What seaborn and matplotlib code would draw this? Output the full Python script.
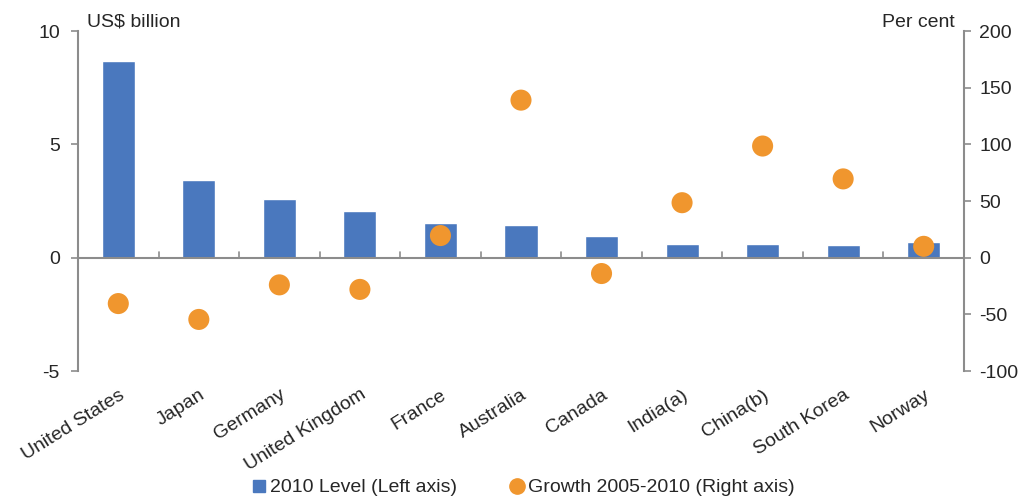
import matplotlib
matplotlib.use("Agg")
import matplotlib.pyplot as plt
import matplotlib.transforms as mtransforms
import seaborn as sns
import pandas as pd
from matplotlib.lines import Line2D

countries = ["United States", "Japan", "Germany", "United Kingdom", "France",
             "Australia", "Canada", "India(a)", "China(b)", "South Korea", "Norway"]
level_2010 = [8.66, 3.42, 2.6, 2.05, 1.55, 1.42, 0.97, 0.59, 0.59, 0.57, 0.68]
growth_05_10 = [-40.5, -54.5, -24, -28, 19.5, 139, -14, 48.5, 98.5, 69.5, 10]

left_ticks = [-5, 0, 5, 10]
right_ticks = [-100, -50, 0, 50, 100, 150, 200]

BLUE = "#4A78BE"
ORANGE = "#F0962E"
GREY = "#8C8C8C"
FS = 14

sns.set_style("white")
plt.rcParams['font.family'] = ['Liberation Sans', 'DejaVu Sans']

df = pd.DataFrame({"country": countries, "level": level_2010, "growth": growth_05_10})

fig = plt.figure(figsize=(10.28, 5.0), dpi=100)
ax = fig.add_axes([0.0759, 0.258, 0.8618, 0.68])

sns.barplot(data=df, x="country", y="level", order=countries, color=BLUE,
            width=0.41, saturation=1, ax=ax, zorder=2)
ax.set_ylim(-5, 10)
ax.set_xlim(-0.5, len(countries) - 0.5)
ax.set_yticks(left_ticks)
ax.set_yticklabels([str(t) for t in left_ticks], fontsize=FS)
ax.set_xlabel("")
ax.set_ylabel("")

ax2 = ax.twinx()
sns.scatterplot(x=list(range(len(countries))), y=df["growth"].tolist(), color=ORANGE,
                s=230, edgecolor="none", ax=ax2, zorder=3)
ax2.set_ylim(-100, 200)
ax2.set_yticks(right_ticks)
ax2.set_yticklabels([str(t) for t in right_ticks], fontsize=FS)
ax2.set_xlim(-0.5, len(countries) - 0.5)

for a in (ax, ax2):
    for s in ["top", "bottom"]:
        a.spines[s].set_visible(False)
    a.spines["left"].set_color(GREY)
    a.spines["right"].set_color(GREY)
    a.spines["left"].set_linewidth(1.5)
    a.spines["right"].set_linewidth(1.5)
ax.spines["right"].set_visible(False)
ax2.spines["left"].set_visible(False)

ax.tick_params(axis="y", direction="out", length=5, color=GREY, width=1.2, pad=8, left=True)
ax2.tick_params(axis="y", direction="out", length=5, color=GREY, width=1.2, pad=6, right=True)

# zero line and between-category ticks
ax.axhline(0, color=GREY, lw=1.5, zorder=3)
for i in range(len(countries) - 1):
    ax.plot([i + 0.5, i + 0.5], [0, 0.25], color=GREY, lw=1.2, zorder=3)

ax.set_xticks(range(len(countries)))
ax.set_xticklabels(countries, rotation=32, ha="right", rotation_mode="anchor", fontsize=FS)
ax.tick_params(axis="x", length=0, pad=11)

ax.text(0.01, 10, "US$ billion", fontsize=FS, va="bottom", ha="left",
        transform=mtransforms.blended_transform_factory(ax.transAxes, ax.transData))
ax2.text(0.99, 200, "Per cent", fontsize=FS, va="bottom", ha="right",
         transform=mtransforms.blended_transform_factory(ax2.transAxes, ax2.transData))

handles = [Line2D([], [], marker="s", color=BLUE, linestyle="none", markersize=9),
           Line2D([], [], marker="o", color=ORANGE, linestyle="none", markersize=11)]
fig.legend(handles, ["2010 Level (Left axis)", "Growth 2005-2010 (Right axis)"],
           loc="center", bbox_to_anchor=(0.508, 0.025), ncol=2, frameon=False,
           fontsize=FS, handletextpad=0.05, columnspacing=2.6, handlelength=1.0)

fig.savefig("out.png", dpi=100)
